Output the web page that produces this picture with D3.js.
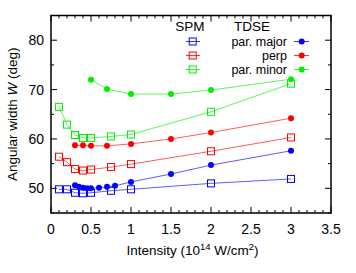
<!DOCTYPE html>
<html><head><meta charset="utf-8">
<script src="https://cdn.jsdelivr.net/npm/d3@7"></script>
<style>body{margin:0;background:#fff}svg{display:block}text{font-family:"Liberation Sans",Arial,sans-serif}</style>
</head><body><svg id="c" width="356" height="273"></svg>
<script>
// SPM (open squares)
const spmX = [0.1, 0.2, 0.3, 0.4, 0.5, 0.75, 1.0, 2.0, 3.0];
const spmMajor = [49.8, 49.8, 49.1, 49.0, 49.1, 49.5, 49.8, 51.0, 51.9];
const spmPerp  = [56.4, 55.3, 53.9, 53.6, 53.8, 54.3, 54.9, 57.5, 60.3];
const spmMinor = [66.5, 62.9, 60.8, 60.2, 60.2, 60.5, 60.9, 65.5, 71.2];
// TDSE (filled circles)
const tdseMajorX = [0.3, 0.35, 0.4, 0.45, 0.5, 0.6, 0.7, 0.8, 1.0, 1.5, 2.0, 3.0];
const tdseMajor  = [50.6, 50.3, 50.1, 50.0, 50.0, 50.1, 50.3, 50.5, 51.3, 52.9, 54.7, 57.6];
const tdsePerpX = [0.3, 0.4, 0.5, 0.7, 1.0, 1.5, 2.0, 3.0];
const tdsePerp  = [58.7, 58.7, 58.6, 58.6, 59.0, 60.0, 61.3, 64.2];
const tdseMinorX = [0.5, 0.7, 1.0, 1.5, 2.0, 3.0];
const tdseMinor  = [72.0, 70.1, 69.1, 69.1, 69.9, 72.1];
const xTicks = [0, 0.5, 1, 1.5, 2, 2.5, 3, 3.5];
const yTicks = [50, 60, 70, 80];
const labels = ["par. major", "perp", "par. minor"];
const colors = ["#0000ff", "#ff0000", "#00ee00"];

const svg = d3.select("#c");
const L = 51, R = 331, T = 15.5, B = 213;
const x = d3.scaleLinear().domain([0, 3.5]).range([L, R]);
const y = d3.scaleLinear().domain([45, 85]).range([B, T]);

// ticks
const g = svg.append("g").attr("stroke", "#000").attr("stroke-width", 1);
d3.range(0, 3.51, 0.1).forEach(v => {
  const major = Math.abs(v * 2 - Math.round(v * 2)) < 1e-6;
  const len = major ? 6 : 3;
  g.append("line").attr("x1", x(v)).attr("x2", x(v)).attr("y1", B).attr("y2", B - len);
  g.append("line").attr("x1", x(v)).attr("x2", x(v)).attr("y1", T).attr("y2", T + len);
});
d3.range(45, 85.1, 5).forEach(v => {
  const major = v % 10 === 0;
  const len = major ? 6 : 3;
  g.append("line").attr("y1", y(v)).attr("y2", y(v)).attr("x1", L).attr("x2", L + len);
  g.append("line").attr("y1", y(v)).attr("y2", y(v)).attr("x1", R).attr("x2", R - len);
});
xTicks.forEach(v => svg.append("text").attr("x", x(v)).attr("y", B + 21)
  .attr("text-anchor", "middle").attr("font-size", 14).text(v));
yTicks.forEach(v => svg.append("text").attr("x", L - 7).attr("y", y(v) + 5)
  .attr("text-anchor", "end").attr("font-size", 14).text(v));

// axis titles
const xt = svg.append("text").attr("x", 192.5).attr("y", 255)
  .attr("text-anchor", "middle").attr("font-size", 13.5);
xt.append("tspan").text("Intensity (10");
xt.append("tspan").attr("font-size", 9.5).attr("dy", -5.5).text("14");
xt.append("tspan").attr("dy", 5.5).text(" W/cm");
xt.append("tspan").attr("font-size", 9.5).attr("dy", -5.5).text("2");
xt.append("tspan").attr("dy", 5.5).text(")");
const yt = svg.append("text").attr("transform", `translate(16.5,${(T + B) / 2}) rotate(-90)`)
  .attr("text-anchor", "middle").attr("font-size", 13.5);
yt.append("tspan").text("Angular width ");
yt.append("tspan").attr("font-style", "italic").text("W");
yt.append("tspan").text(" (deg)");

const line = d3.line().x(d => x(d[0])).y(d => y(d[1]));
const spmSets = [spmMajor, spmPerp, spmMinor];
const tdseSets = [[tdseMajorX, tdseMajor], [tdsePerpX, tdsePerp], [tdseMinorX, tdseMinor]];

function drawSq(sel, cx, cy, c) {
  sel.append("rect").attr("x", cx - 3.5).attr("y", cy - 3.5).attr("width", 7).attr("height", 7)
    .attr("fill", "none").attr("stroke", c).attr("stroke-width", 1);
}
spmSets.forEach((ys, i) => {
  const pts = spmX.map((v, j) => [v, ys[j]]);
  svg.append("path").attr("d", line(pts)).attr("fill", "none").attr("stroke", colors[i]).attr("stroke-width", 0.8).attr("stroke-opacity", 0.8);
  pts.forEach(p => drawSq(svg, x(p[0]), y(p[1]), colors[i]));
});
tdseSets.forEach(([xs, ys], i) => {
  const pts = xs.map((v, j) => [v, ys[j]]);
  svg.append("path").attr("d", line(pts)).attr("fill", "none").attr("stroke", colors[i]).attr("stroke-width", 0.8).attr("stroke-opacity", 0.8);
  pts.forEach(p => svg.append("circle").attr("cx", x(p[0])).attr("cy", y(p[1])).attr("r", 3).attr("fill", colors[i]));
});

// legend
svg.append("text").attr("x", 190).attr("y", 31).attr("text-anchor", "middle").attr("font-size", 13.5).text("SPM");
svg.append("text").attr("x", 252).attr("y", 31).attr("text-anchor", "middle").attr("font-size", 13.5).text("TDSE");
labels.forEach((lab, i) => {
  const cy = 41.5 + i * 14;
  svg.append("text").attr("x", 287).attr("y", cy + 4.3).attr("text-anchor", "end").attr("font-size", 12.5).text(lab);
  svg.append("line").attr("x1", 186).attr("x2", 200).attr("y1", cy).attr("y2", cy).attr("stroke", colors[i]).attr("stroke-width", 0.8);
  drawSq(svg, 192.7, cy, colors[i]);
  svg.append("line").attr("x1", 294).attr("x2", 309).attr("y1", cy).attr("y2", cy).attr("stroke", colors[i]).attr("stroke-width", 0.8);
  svg.append("circle").attr("cx", 301.7).attr("cy", cy).attr("r", 3).attr("fill", colors[i]);
});

// frame
svg.append("rect").attr("x", L).attr("y", T).attr("width", R - L).attr("height", B - T)
  .attr("fill", "none").attr("stroke", "#000").attr("stroke-width", 1.5);
</script></body></html>
